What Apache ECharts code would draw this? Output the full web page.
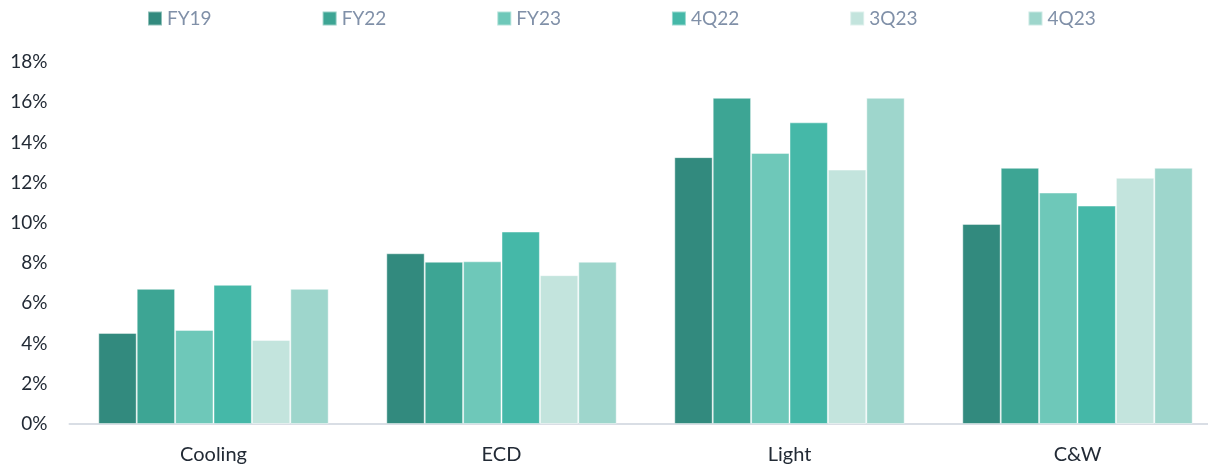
<!DOCTYPE html>
<html>
<head>
<meta charset="utf-8">
<script src="https://cdn.jsdelivr.net/npm/echarts@6/dist/echarts.min.js"></script>
<style>
  html, body { margin: 0; padding: 0; background: #fff; }
  #chart { width: 1208px; height: 467px; }
</style>
</head>
<body>
<div id="chart"></div>
<script>
const categories = ["Cooling", "ECD", "Light", "C&W"];
const seriesNames = ["FY19", "FY22", "FY23", "4Q22", "3Q23", "4Q23"];
const fy19 = [4.53, 8.49, 13.27, 9.95];
const fy22 = [6.72, 8.07, 16.22, 12.74];
const fy23 = [4.68, 8.09, 13.48, 11.51];
const q4_22 = [6.92, 9.57, 15.0, 10.86];
const q3_23 = [4.18, 7.4, 12.65, 12.24];
const q4_23 = [6.72, 8.07, 16.22, 12.74];
const yTicks = [0, 2, 4, 6, 8, 10, 12, 14, 16, 18];

const values = [fy19, fy22, fy23, q4_22, q3_23, q4_23];
const colors = ["#328a7e", "#3da594", "#6ec8b9", "#45b8a8", "#c3e4dd", "#9ed6cc"];
const font = "Lato, 'Open Sans', sans-serif";

const chart = echarts.init(document.getElementById("chart"));

chart.setOption({
  animation: false,
  color: colors,
  legend: {
    top: 4,
    left: 142,
    itemWidth: 14,
    itemHeight: 14,
    itemGap: 110,
    icon: "rect",
    textStyle: { color: "#8090a8", fontSize: 19, fontFamily: font },
    data: seriesNames,
  },
  grid: {
    left: 69.5,
    top: 62,
    right: -13.5,
    height: 362,
    outerBoundsMode: "none",
  },
  xAxis: {
    type: "category",
    data: categories,
    axisLine: { lineStyle: { color: "#d9dee5", width: 2 } },
    axisTick: { show: false },
    axisLabel: { color: "#222a35", fontSize: 20, fontFamily: font, margin: 21 },
  },
  yAxis: {
    type: "value",
    min: yTicks[0],
    max: yTicks[yTicks.length - 1],
    interval: 2,
    splitLine: { show: false },
    axisLine: { show: false },
    axisTick: { show: false },
    axisLabel: {
      color: "#222a35",
      fontSize: 19,
      fontFamily: font,
      margin: 22,
      formatter: (v) => v + "%",
    },
  },
  series: seriesNames.map((name, i) => ({
    name,
    type: "bar",
    data: values[i],
    barGap: "0%",
    barCategoryGap: "20%",
    itemStyle: { borderColor: "rgba(255,255,255,0.45)", borderWidth: 1 },
  })),
});
</script>
</body>
</html>
